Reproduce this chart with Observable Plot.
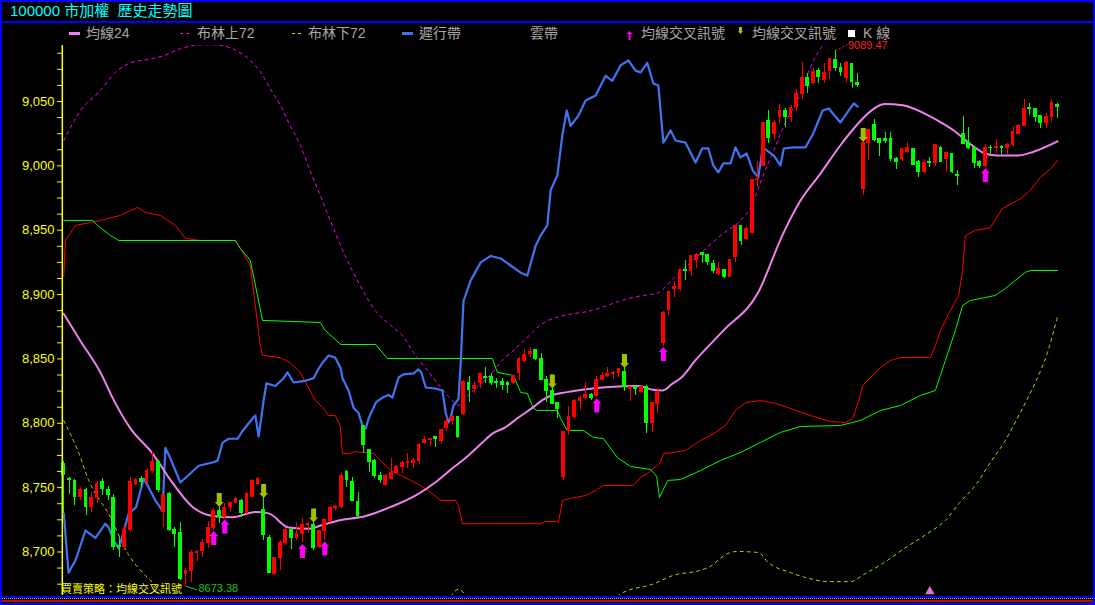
<!DOCTYPE html>
<html><head><meta charset="utf-8">
<script src="https://cdn.jsdelivr.net/npm/d3@7"></script>
<script src="https://cdn.jsdelivr.net/npm/@observablehq/plot@0.6"></script>
<style>
html,body{margin:0;padding:0;background:#000;}
#wrap{position:relative;width:1095px;height:605px;overflow:hidden;background:#000;font-family:"Liberation Sans","Noto Sans CJK TC",sans-serif;}
#chart{position:absolute;left:0;top:0;}
.abs{position:absolute;}
.border{left:0;top:0;width:1095px;height:605px;box-sizing:border-box;border:2px solid #0000ff;pointer-events:none;}
.title{left:10px;top:0px;line-height:21px;font-size:15px;color:#00ffff;white-space:pre;font-family:"Liberation Sans","Noto Sans CJK TC",sans-serif;}
.lg{top:26px;line-height:15px;font-size:14px;color:#a8a8a8;white-space:pre;font-family:"Liberation Sans","Noto Sans CJK TC",sans-serif;}
.strat{left:61px;top:582px;line-height:12px;font-size:11px;color:#ffff00;white-space:pre;font-family:"Noto Sans CJK TC",sans-serif;}
</style></head>
<body>
<div id="wrap">
  <div id="chart"></div>
  <div class="abs" style="left:0;top:21px;width:1095px;height:2px;background:#0000ff"></div>
  <div class="abs" style="left:0;top:596px;width:1095px;height:2px;background:#0000ff"></div>
  <div class="abs" style="left:0;top:598px;width:1095px;height:0;border-top:1px dotted #c8c800"></div>
  <div class="abs" style="left:0;top:600px;width:1095px;height:2px;background:#d00000"></div>
  <div class="abs title">100000 市加權  歷史走勢圖</div>
  <div class="abs" style="left:69px;top:32px;width:11px;height:3px;background:#f080f0"></div>
  <div class="abs lg" style="left:86px">均線24</div>
  <div class="abs" style="left:180px;top:33px;width:3px;height:1px;background:#ff00ff"></div>
  <div class="abs" style="left:186px;top:33px;width:3px;height:1px;background:#ff00ff"></div>
  <div class="abs lg" style="left:197px">布林上72</div>
  <div class="abs" style="left:292px;top:33px;width:3px;height:1px;background:#c8d200"></div>
  <div class="abs" style="left:298px;top:33px;width:3px;height:1px;background:#c8d200"></div>
  <div class="abs lg" style="left:308px">布林下72</div>
  <div class="abs" style="left:402px;top:32px;width:11px;height:3px;background:#4173f2"></div>
  <div class="abs lg" style="left:419px">遲行帶</div>
  <div class="abs lg" style="left:530px">雲帶</div>
  <svg class="abs" style="left:626px;top:31px" width="7" height="9"><polygon points="3.5,0 6.5,3 4.5,3 4.5,9 2.5,9 2.5,3 0.5,3" fill="#ff00ff"/></svg>
  <div class="abs lg" style="left:641px">均線交叉訊號</div>
  <svg class="abs" style="left:738px;top:27px" width="5" height="7"><polygon points="1,0 4,0 4,4 5,4 2.5,7 0,4 1,4" fill="#a0c000"/></svg>
  <div class="abs lg" style="left:752px">均線交叉訊號</div>
  <div class="abs" style="left:848px;top:30px;width:7px;height:7px;background:#ffffff"></div>
  <div class="abs lg" style="left:863px">K 線</div>
  <div class="abs strat">買賣策略：均線交叉訊號</div>
  <div class="abs border"></div>
</div>
<script>
// ---- Candles (index 0..179) ----
const open = [
8768,8757,8755,8743,8748,8735,8742,8754,8748,8742,
8705,8703.5,8717,8753,8757,8754,8763,8770,8731,8745,
8717,8715,8683,8685,8699,8700.4,8707,8719,8732,8727,
8735,8738,8740,8730,8743,8753,8733,8711,8683,8695,
8707,8717,8711,8714,8721,8721,8703.5,8716,8724,8734,
8735,8762,8754,8739,8797.5,8779,8771,8759,8752,8757,
8761,8766,8769,8769.5,8771,8785,8787,8789,8786,8796,
8802,8805,8807,8831,8827,8831,8835.6,8836,8832,8832,
8831,8831,8839,8848,8854,8857,8850,8834,8825,8816,
8758,8794,8804.5,8817,8820,8822,8821,8834,8837,8838,
8839,8839.5,8827,8828,8824,8828,8800,8815,8862,8888,
8904,8904,8919,8918,8927,8932,8931,8924,8916,8919,
8914,8929,8953,8943,8948,8989,9000,9034.5,9025,9038,
9043,9037.6,9046,9056,9068,9064,9074,9067,9074,9082,
9075.7,9068,9079,9064,8982,9018,9032,9020.5,9020.5,9021,
9005,9005,9011,9013,9003,8995,9003,9002,9014,9005,
9009,8993,9025,9018,9013.5,9003,8999.5,9014,9014,9015,
9014,9016,9025,9031,9044.6,9044,9039,9033,9038,9047];
const high = [
8770,8758,8756,8750,8749,8746,8755,8757,8751,8745,
8711,8721,8758,8757,8759,8765,8777,8771,8745,8746,
8719,8723,8687,8701,8701,8710,8724,8734,8735,8738,
8738.5,8742,8741,8746,8756,8758,8742,8713,8696,8709,
8718,8718,8723,8726,8723,8723,8717,8726,8735,8736,
8761,8763,8758,8746,8798,8780,8772,8762,8760,8773,
8767,8770,8776.5,8772.6,8784,8790,8788,8790,8795,8804.5,
8806,8805.5,8833,8836,8832,8839,8843,8839,8835,8835,
8832.5,8837.5,8851,8857,8859,8857.5,8854,8836,8827,8816.5,
8793.5,8813,8818.5,8821,8832,8823,8836,8839.5,8843,8840,
8842.5,8843,8828.5,8829,8828.5,8829,8816.5,8827,8886.5,8902.5,
8910,8919.5,8926.5,8930.5,8932,8932.5,8931.5,8926.5,8925,8919.5,
8927,8954,8953.5,8953,8989.5,9003,9033.5,9043,9035,9048,
9044.6,9047,9059,9080,9072,9076,9075.7,9079.6,9083.4,9089.47,
9079.6,9081,9079.6,9072,9018.5,9028.5,9036,9021,9026,9026,
9006.5,9013.5,9018,9013.5,9004,9005,9006.5,9016.5,9015,9010,
9009.5,8996,9038,9030,9015,9004,9016.6,9016,9020.5,9015.5,
9017,9030.6,9032,9051.6,9048.5,9044.5,9039.5,9040.7,9051.6,9048.5];
const low = [
8730,8745,8736,8740,8728,8731,8738,8744,8740,8701,
8696,8701,8715,8752,8750,8752,8761,8746,8719,8716,
8703.5,8678,8673.38,8676,8693,8696,8703,8717,8722,8726,
8731,8738,8727,8729,8742,8752,8709,8683,8682,8686,
8705,8702,8709,8707,8714,8701,8703,8709,8723,8732,
8734,8750,8739,8727,8776.5,8762,8757,8753,8751,8756,
8760,8761,8765,8765,8768,8783.5,8782,8781,8783.5,8793.6,
8798,8788,8806,8816,8823,8827,8831,8829,8827,8825.5,
8823,8830,8833,8846.5,8851,8849,8833,8816,8814.6,8804,
8755.6,8790.5,8803,8810,8818.5,8818,8820,8833,8835.6,8834,
8835.6,8825,8817,8821.6,8823.5,8792,8793,8807.6,8860,8884,
8898,8902,8911,8914,8920,8924,8922.6,8916,8915,8912.5,
8913.5,8925,8938,8942,8947.5,8983,8999.5,9017,9020,9033,
9030,9034,9042,9051.6,9056,9063.5,9064,9064,9067,9073,
9069.6,9065,9060,9061,8977,9004,9019,9007,9017,9003,
8997,9003,9009.6,9000,8991,8993,8999,8999.5,9002.6,8995,
8994,8985,9016.6,9013,8998,8998,8999,9008,9009.6,9009,
9009,9015,9024.6,9030.6,9039,9034,9029,9029,9034,9036.6];
const close = [
8760,8756,8743,8748,8735,8742,8753,8749,8744,8703.5,
8703.5,8717,8754,8756,8754,8763,8770,8748,8744,8717,
8714,8679,8685,8699,8700,8707,8719,8732,8727,8734,
8738,8741,8730,8745,8755,8757,8713,8684,8695,8707,
8717,8711,8714,8721,8722,8703,8716,8724.5,8734,8735,
8759,8756,8740,8728,8783,8770,8759,8756,8759,8761,
8766,8769,8770,8771,8783.5,8787,8788,8788,8795,8801,
8804.5,8789,8832,8826,8829,8838,8835,8831,8831,8830,
8830,8837,8850,8853,8855,8850,8834,8825,8815,8811,
8793,8804.5,8817,8820,8822,8820,8834,8837,8838,8838.7,
8842,8828,8828,8827,8828,8800,8816,8824,8886,8902,
8905.5,8919,8918,8930,8931,8931,8925,8918,8919.5,8914,
8926.5,8953,8942,8951,8989,8990,9033,9022,9033,9043,
9037.6,9045,9055.5,9068,9062,9072.6,9068.7,9072,9082.7,9075.7,
9073,9080,9065,9063,9018,9028,9020,9018,9019,9005,
9003,9013,9014,9001,8995,9002.6,9002,9016,9003,9009.6,
8995,8992,9017,9013.5,9002.6,9000,9014,9013.5,9015,9014,
9016,9026,9031,9044,9044,9038,9033,9038,9048.5,9046];

// ---- Signals (candle indices) ----
const buySignals = [27, 29, 43, 47, 96, 108, 166];
const sellSignals = [28, 36, 45, 88, 101, 144];
const bottomMarker = [156];

// ---- 均線24 ----
const maIdx = [0,3,6.6,9,12,16,19.2,23.2,26.8,30.4,34.5,36.9,40.5,44.1,46.6,49.5,54.4,58.9,63.4,66.9,70,72.9,75.4,77.2,79.6,81.9,84.4,86.2,88,90.4,93.4,97.6,103.5,106.1,107.9,109.7,111.1,113.8,118.8,125,129.6,132.7,136.3,139.9,142.3,144.1,148,151.1,154.9,157.9,160.3,163,165.7,168.2,171.8,174.7,179];
const maVal = [8885,8864,8839.5,8818,8796,8776.5,8756,8735,8728,8727,8731,8730,8719,8718,8721,8724.5,8728,8735,8744,8754,8765,8775,8785,8792,8797,8804.5,8812,8818,8822,8824,8826,8828,8829,8826,8825.5,8831,8835,8849,8872,8901,8947.5,8973,8994,9016,9029,9037.6,9048,9047,9041,9034,9027.5,9018,9010,9008,9008,9011,9019];

// ---- 布林上72 ----
const bollUpIdx = [0,3,6.6,9.3,12,15.6,18.3,21,24.6,27.3,30.9,33.6,35.4,37.2,39,40.8,42.6,44.4,46.2,48,50.7,53.4,56.1,58.9,61,63.4,65.5,67.9,69.7,71.1,72.9,74.7,77.2,79,81.4,84.4,86.2,88.6,91.6,94.5,97.6,99.9,103.9,106.9,109.8,114.7,118.8,121.9,123.7,125,126.1,127.9,129.6,132.7,134.5,136.3,137.2];
const bollUpVal = [9019.7,9043,9058.6,9072.6,9080,9083,9086,9091,9094,9094,9090,9082,9073,9060,9047,9031,9016,8996,8977,8957.6,8930,8907,8887.6,8876,8868,8852.7,8841,8828,8819,8814,8822,8829,8839.5,8849,8858,8870.6,8877.5,8882,8885,8887,8891,8894.6,8899,8901,8912.5,8932,8947.5,8957.6,8967.7,8981,8994,9012,9030,9056,9076.5,9091,9096];

// ---- 布林下72 (NaN = not visible) ----
const bollDnIdx = [0,2.5,4.5,8.4,11.5,14.4,16.2,18.3,NaN,69.7,71.1,72.5,NaN,99.7,100.1,106.4,109.7,114.5,116.1,119.6,121.2,125.1,126.9,130.9,134.3,137.6,141.7,144.1,147.5,151.4,155.6,158.8,161.4,164.2,166.9,169.6,172.3,175,177.2,179];
const bollDnVal = [8802,8779,8755.6,8727,8699,8683,8675.5,8665,NaN,8665.5,8671,8665.5,NaN,8665.5,8667,8675.5,8681.7,8685.6,8688,8698.8,8700.4,8699.6,8691.8,8684,8679.4,8677,8677,8682.5,8691,8702.7,8714.4,8724.5,8738.5,8751.7,8769.5,8786.6,8808.4,8831.7,8855,8883];

// ---- 遲行帶 ----
const lagIdx = [0,0.85,2.1,3.9,4.4,5.7,7.5,8.1,9,9.9,11.7,13,14.4,15.3,16.5,17.8,18.3,19.2,21,24.3,26.8,27.7,28.6,29.7,31.3,32.2,34,34.5,35.1,36,36.5,38.1,39.6,40.3,41.4,43.5,45,45.7,46.6,47.7,48.9,49.9,50.2,51.3,52.2,53.1,53.8,54.4,54.9,56.2,57.4,58.5,59.2,60.3,61.2,63,63.9,64.4,65.2,66.9,68.2,68.8,69.3,69.7,70.2,71.1,71.5,72,73.3,75.1,76.9,78.7,80.5,82.3,83.5,85,85.9,87.1,87.7,88.9,89.8,90.6,91.3,92.7,94,95.8,97.6,98.8,100.3,101.7,103,103.9,105.1,106.2,107.1,108,109.3,110.2,112,113.8,115,116.1,117,117.9,118.8,120.1,121,121.9,123,124.1,125.1,125.9,127.9,129.1,129.7,131.4,133.6,135,136.7,137.8,139.9,142.3,143];
const lagVal = [8729.9,8684,8693.4,8716.7,8715,8711,8722,8719,8709,8702.7,8730,8734.6,8757,8750,8740,8732,8781,8772.6,8754,8767,8769.5,8771,8785,8788,8788,8794,8803.7,8806,8789.7,8817.7,8831,8829,8835,8839.5,8831.7,8833,8835,8841,8847,8852.7,8851,8842.6,8835,8825.5,8812,8808,8798,8796,8803.7,8816,8820,8822,8820,8835.6,8838,8838.7,8841.8,8839.5,8827.8,8827,8825.5,8808,8800.6,8804.5,8813.8,8819,8847,8895,8911,8925,8930,8928,8922.6,8917,8914.8,8938,8946,8953.7,8981,8992.5,9023.6,9043,9031,9039,9050.8,9054.7,9070,9066,9078,9082,9074,9072.6,9080,9064,9062.5,9018,9027.5,9019.7,9018,9002.6,9013.5,9013.5,9000.3,8994.9,9001.9,9001.9,9014.3,9006.5,9009.6,8996.4,8991,9014.3,9008,9000.3,9013.5,9014.3,9014.3,9025.2,9043,9044.6,9033.7,9048.5,9046];

// ---- 雲帶 (red / green bands) ----
const cloudRedIdx = [0,0.3,2.1,4.8,6.6,10.2,12,13.3,14.7,17.4,20.1,21.9,24.6,30.9,31.8,33.6,35.4,35.8,39,40.8,42.6,45.3,46.6,47.7,48.9,49.8,50.2,51.3,52.5,54,55.8,57.1,58.9,60.7,62.5,64.3,66.1,67.9,70.6,71.1,71.8,73.3,85.9,86.8,88.8,89.1,89.5,89.8,91.3,94,95.8,97.2,102.6,103.9,105.1,107.5,108,109.8,112,114.7,117.4,119.2,121,122.8,125.5,128.2,130.9,134.5,138.1,140.8,142.1,143.2,143.9,145.3,147.1,148.9,150.7,156.1,157,157.9,159.7,161.2,161.9,162.4,164.2,166.9,169.1,172.4,174.1,175.9,177.8,179];
const cloudRedVal = [8914.8,8942,8953.7,8956,8957.6,8961.5,8965.3,8967.7,8963.8,8961.5,8953.7,8943.6,8942,8942,8935.8,8922.6,8860.4,8852.7,8851,8847,8839.5,8817.7,8812.3,8806,8806,8798,8776.5,8776.5,8778,8777.3,8776.5,8771,8763.3,8759.4,8755.6,8751.7,8746.2,8740,8740,8736,8722,8722,8722,8723.7,8723.7,8723,8732,8740,8741.6,8743.9,8747.8,8751.7,8751.7,8757.9,8761,8769.5,8776.5,8777.3,8778.9,8786.6,8792.9,8798.3,8810,8816,8817.7,8815.4,8811.5,8806,8801.4,8800.6,8803.7,8817.7,8829.4,8835.6,8843.4,8848.8,8851.1,8851.1,8860.4,8872.1,8887.6,8899.3,8918.7,8945.9,8949.8,8952.1,8966.9,8974.7,8980.9,8991,8998,9004.2];
const cloudGreenIdx = [0,5.2,6.1,8.4,9.9,30.9,31.8,33.6,35.8,46.2,47.1,49.9,56.2,58.3,77.2,78.1,81,82.3,83.5,84.6,85.3,88.9,89.5,90.7,93.6,95.4,97.2,99.7,102.1,105.7,106.8,107.3,107.9,108.8,111.1,114.7,118.3,121.9,125.5,129.1,132.7,139.9,143.5,147.1,150.7,154.3,157,158.8,160.6,161.9,163.3,167.8,169.6,171.4,173.2,174.1,179];
const cloudGreenVal = [8957.6,8957.6,8953.7,8945.9,8942,8942,8935.8,8926.5,8879.9,8878.3,8872.1,8861.2,8861.2,8850.3,8850.3,8839.5,8837.1,8823.9,8823.2,8811.5,8810,8810,8803.7,8794.4,8794.4,8789,8788.2,8773.4,8766.4,8764.1,8758.7,8742.3,8747.8,8755.6,8756.3,8763.3,8771.1,8777.3,8785.1,8792.9,8797.5,8798.3,8802.2,8809.9,8813.8,8821.6,8825.5,8848.8,8872.1,8891.5,8895.4,8899.3,8904.7,8911,8917.2,8918.7,8918.7];

// ---- Y axis ticks ----
const yMajorTicks = [8700, 8750, 8800, 8850, 8900, 8950, 9000, 9050];
const yMinorStep = 12.5;

// ---- build ----
const W = 1095, H = 605, mTop = 45, mBottom = 10, mLeft = 62, mRight = 3;
const xDomain = [0, 179], xRange = [63.3, 1057];
const yDomain = [8666.2, 9093.5];
const pxPerX = (xRange[1] - xRange[0]) / (xDomain[1] - xDomain[0]);
const pxPerY = (H - mBottom - mTop) / (yDomain[1] - yDomain[0]);
const pts = (xs, ys) => xs.map((x, k) => ({x, y: ys[k]}));
const candles = open.map((o, i) => ({i, o, h: high[i], l: low[i], c: close[i]}));
const cColor = d => d.c >= d.o ? "#ff0000" : "#00ff00";
const yTicks = d3.range(8675, 9090, yMinorStep);
const maxI = d3.maxIndex(high), minI = d3.minIndex(low);

const upArrow = {draw(ctx) {
  ctx.moveTo(0, 0); ctx.lineTo(4.5, 5); ctx.lineTo(2.5, 5); ctx.lineTo(2.5, 14);
  ctx.lineTo(-2.5, 14); ctx.lineTo(-2.5, 5); ctx.lineTo(-4.5, 5); ctx.closePath();
}};
const downArrow = {draw(ctx) {
  ctx.moveTo(0, 0); ctx.lineTo(4.5, -5); ctx.lineTo(2.5, -5); ctx.lineTo(2.5, -14);
  ctx.lineTo(-2.5, -14); ctx.lineTo(-2.5, -5); ctx.lineTo(-4.5, -5); ctx.closePath();
}};

const chart = Plot.plot({
  width: W, height: H,
  marginTop: mTop, marginBottom: mBottom, marginLeft: mLeft, marginRight: mRight,
  x: {domain: xDomain, range: xRange, axis: null},
  y: {domain: yDomain},
  style: {background: "transparent", color: "#ffff00", fontFamily: "Liberation Sans, sans-serif", overflow: "visible"},
  marks: [
    Plot.line(pts(cloudRedIdx, cloudRedVal), {x: "x", y: "y", stroke: "#ff0000", strokeWidth: 1, clip: true}),
    Plot.line(pts(cloudGreenIdx, cloudGreenVal), {x: "x", y: "y", stroke: "#00ff00", strokeWidth: 1, clip: true}),
    Plot.line(pts(bollUpIdx, bollUpVal), {x: "x", y: "y", stroke: "#ff00ff", strokeWidth: 1, strokeDasharray: "3,4", curve: "monotone-x", clip: true}),
    Plot.line(pts(bollDnIdx, bollDnVal), {x: "x", y: "y", stroke: "#c8d200", strokeWidth: 1, strokeDasharray: "3,4", curve: "monotone-x", clip: true}),
    Plot.line(pts(lagIdx, lagVal), {x: "x", y: "y", stroke: "#4173f2", strokeWidth: 2.2, clip: true}),
    Plot.line(pts(maIdx, maVal), {x: "x", y: "y", stroke: "#f080f0", strokeWidth: 2, curve: "monotone-x", clip: true}),
    Plot.ruleX(candles, {x: "i", y1: "l", y2: "h", stroke: cColor, strokeWidth: 1, shapeRendering: "crispEdges"}),
    Plot.rect(candles, {x1: d => d.i - 0.25, x2: d => d.i + 0.25, y1: "o", y2: "c", fill: cColor, stroke: cColor, strokeWidth: 1, shapeRendering: "crispEdges"}),
    Plot.dot(buySignals, {x: d => d, y: d => low[d], symbol: upArrow, r: 4, fill: "#ff00ff", dy: 1}),
    Plot.dot(sellSignals, {x: d => d, y: d => high[d], symbol: downArrow, r: 4, fill: "#a0c000", dy: 0}),
    Plot.dot(bottomMarker, {x: d => d, frameAnchor: "bottom", symbol: "triangle", r: 3.5, fill: "#e070e0", dy: -4}),
    Plot.link([maxI], {x1: d => d, y1: d => high[d], x2: d => d + 12 / pxPerX, y2: d => high[d] + 6 / pxPerY, stroke: "#ff2020", strokeDasharray: "2,2"}),
    Plot.text([maxI], {x: d => d, y: d => high[d], text: d => high[d].toFixed(2), textAnchor: "start", dx: 12.5, dy: -5, fill: "#ff2020", fontSize: 11, fontFamily: "Liberation Sans"}),
    Plot.link([minI], {x1: d => d, y1: d => low[d], x2: d => d + 11 / pxPerX, y2: d => low[d] - 3.5 / pxPerY, stroke: "#20c020"}),
    Plot.text([minI], {x: d => d, y: d => low[d], text: d => low[d].toFixed(2), textAnchor: "start", dx: 12.5, dy: 2, fill: "#20c020", fontSize: 11, fontFamily: "Liberation Sans"}),
    Plot.ruleX([0], {dx: -1.5, stroke: "#ffff00", strokeWidth: 1.5}),
    Plot.axisY({ticks: yTicks, tickFormat: d => yMajorTicks.includes(d) ? d3.format(",")(d) : "", tickSize: 5, tickPadding: 3, color: "#ffff00", fontSize: 13, fontFamily: "Liberation Sans", label: null})
  ]
});
document.getElementById("chart").appendChild(chart);
</script>
</body></html>
